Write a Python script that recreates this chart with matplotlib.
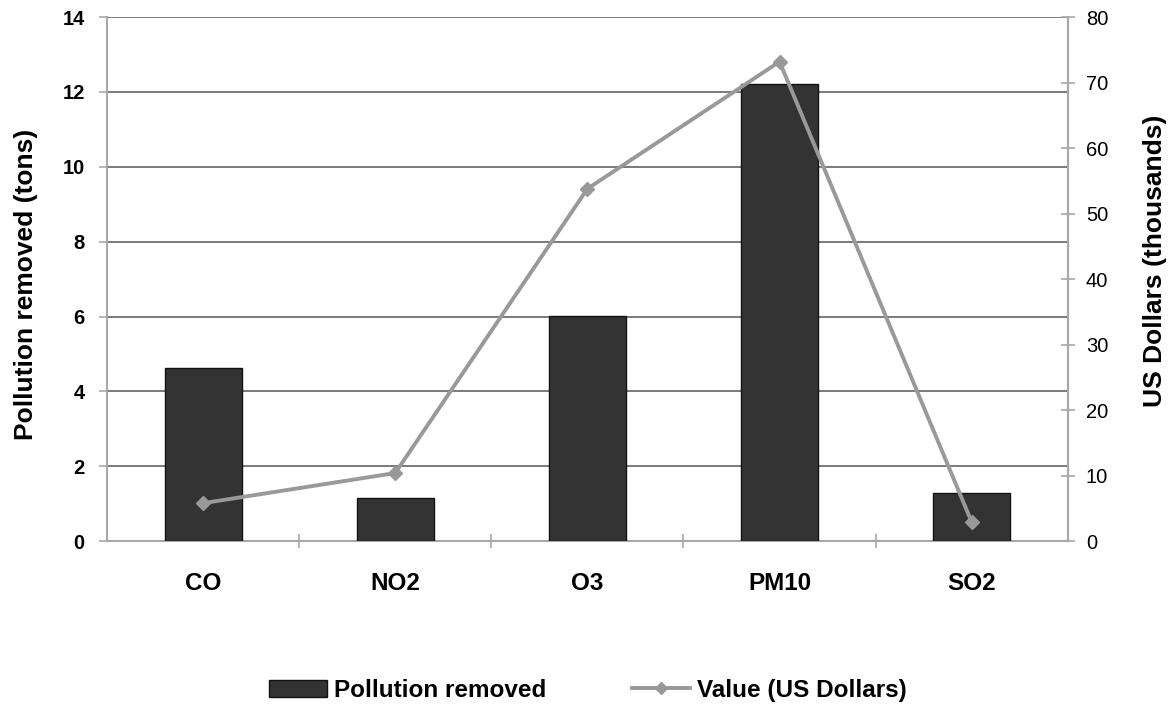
import numpy as np
import matplotlib.pyplot as plt
from matplotlib.lines import Line2D
from matplotlib.patches import Patch

plt.rcParams['font.family'] = ['Liberation Sans', 'DejaVu Sans']

pollutants = ['CO', 'NO2', 'O3', 'PM10', 'SO2']
removed_tons = [4.63, 1.16, 6.02, 12.22, 1.30]
value_thousands = [5.8, 10.4, 53.8, 73.2, 2.9]

grid_col = '#7a7a7a'
spine_col = '#a8a8a8'

fig = plt.figure(figsize=(11.76, 7.13), dpi=100)
ax = fig.add_axes([0.091, 0.241, 0.817, 0.735])
x = np.arange(len(pollutants))

ax.bar(x, removed_tons, width=0.4, color='#333333', edgecolor='#111111',
       linewidth=1, zorder=3)
ax.set_xlim(-0.5, len(pollutants) - 0.5)
ax.set_ylim(0, 14)
ax.set_yticks(np.arange(0, 15, 2))
ax.yaxis.grid(True, color=grid_col, linewidth=1.4, zorder=0)
ax.set_axisbelow(True)

# category ticks sit between the bars
ax.set_xticks(x)
ax.set_xticklabels(pollutants, fontsize=17.5, fontweight='bold')
ax.tick_params(axis='x', length=0, pad=22)
ax.set_xticks(np.arange(0.5, len(pollutants) - 1, 1), minor=True)
ax.tick_params(axis='x', which='minor', length=10, direction='inout',
               color=spine_col, width=1.2)
ax.tick_params(axis='y', length=6, color=spine_col, width=1.2, labelsize=14.5, pad=10)
for lab in ax.get_yticklabels():
    lab.set_fontweight('bold')

ax.spines['top'].set_visible(False)
for side in ['left', 'bottom', 'right']:
    ax.spines[side].set_color(spine_col)
    ax.spines[side].set_linewidth(1.5)

ax.set_ylabel('Pollution removed (tons)', fontsize=19, fontweight='bold')
ax.yaxis.set_label_coords(-0.072, 0.49)

ax2 = ax.twinx()
ax2.plot(x, value_thousands, color='#999999', linewidth=2.8, marker='D',
         markersize=7, markerfacecolor='#999999', markeredgecolor='#999999', zorder=4)
ax2.set_ylim(0, 80)
ax2.set_yticks(np.arange(0, 81, 10))
ax2.tick_params(axis='y', length=10, direction='inout', color=spine_col, width=1.2,
                labelsize=14.5, pad=8)
for side in ['top', 'left', 'bottom']:
    ax2.spines[side].set_visible(False)
ax2.spines['right'].set_color(spine_col)
ax2.spines['right'].set_linewidth(1.5)
ax2.set_ylabel('US Dollars (thousands)', fontsize=19, fontweight='bold')
ax2.yaxis.set_label_coords(1.078, 0.535)

handles = [Patch(facecolor='#333333', edgecolor='#111111'),
           Line2D([0], [0], color='#999999', linewidth=2.8, marker='D', markersize=6)]
fig.legend(handles, ['Pollution removed', 'Value (US Dollars)'], loc='center',
           bbox_to_anchor=(0.5, 0.032), ncol=2, frameon=False,
           prop={'weight': 'bold', 'size': 17.5}, columnspacing=3.5, handlelength=2.4,
           handletextpad=0.3)

fig.savefig('out.png', dpi=100)
